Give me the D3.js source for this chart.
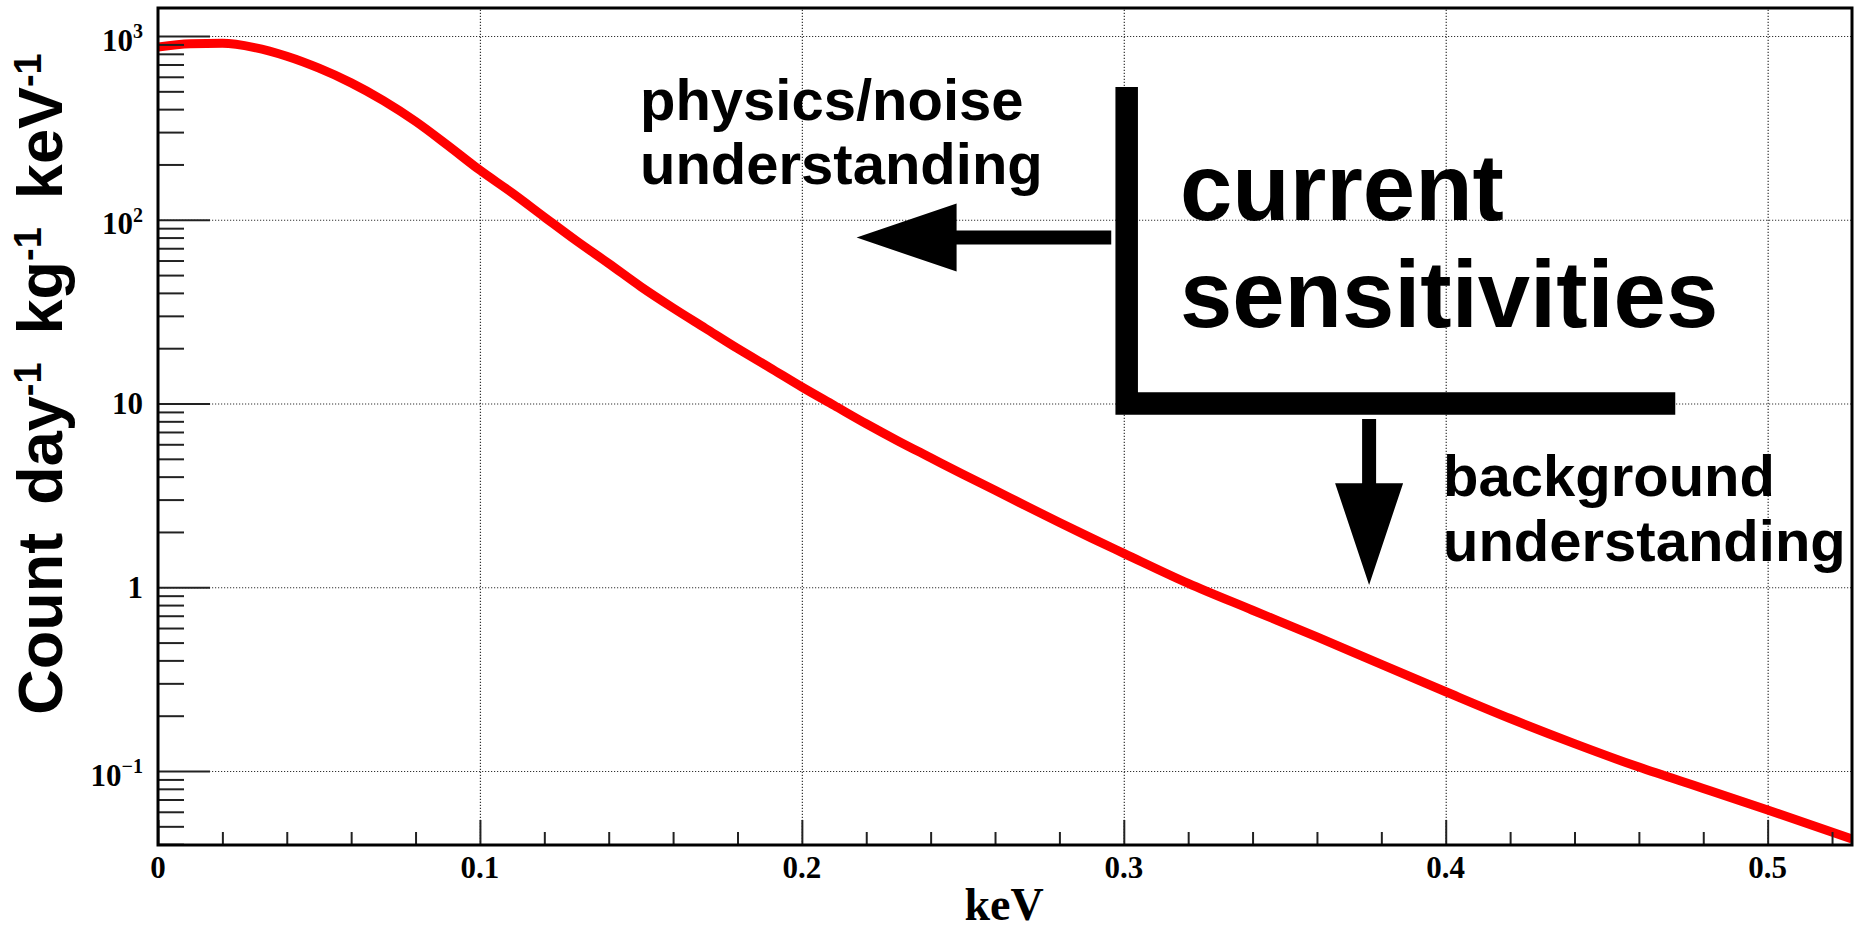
<!DOCTYPE html>
<html>
<head>
<meta charset="utf-8">
<script src="https://cdn.jsdelivr.net/npm/d3@7"></script>
<style>
  html, body { margin: 0; padding: 0; background: #fff; }
  svg { display: block; }
</style>
</head>
<body>
<svg id="chart" width="1858" height="930"></svg>
<script>
// ---------------- data ----------------
const energy = [0, 0.01, 0.02, 0.03, 0.04, 0.05, 0.06, 0.07, 0.08, 0.09,
  0.10, 0.11, 0.12, 0.13, 0.14, 0.15, 0.16, 0.17, 0.18, 0.19,
  0.20, 0.21, 0.22, 0.23, 0.24, 0.25, 0.26, 0.27, 0.28, 0.29,
  0.30, 0.32, 0.34, 0.36, 0.38, 0.40, 0.42, 0.44, 0.46, 0.48,
  0.50, 0.5262];
const counts = [871, 908, 912, 865, 776, 668, 556, 445, 343, 254,
  186, 140, 103.5, 76.7, 57.8, 43.2, 33.1, 25.7, 19.95, 15.7,
  12.3, 9.77, 7.76, 6.24, 5.07, 4.12, 3.37, 2.75, 2.25, 1.85,
  1.53, 1.05, 0.75, 0.537, 0.380, 0.270, 0.193, 0.141, 0.105, 0.0804,
  0.0614, 0.0427];

const xTickValues = [0, 0.1, 0.2, 0.3, 0.4, 0.5];
const xTickLabels = ["0", "0.1", "0.2", "0.3", "0.4", "0.5"];
const yTickValues = [0.1, 1, 10, 100, 1000];
const yTickBase = ["10", "1", "10", "10", "10"];
const yTickExp = ["\u22121", "", "", "2", "3"];
const xTitle = "keV";
const yTitleParts = [["Count", ""], ["day", "-1"], ["kg", "-1"], ["keV", "-1"]];
const noteLeft = ["physics/noise", "understanding"];
const noteMain = ["current", "sensitivities"];
const noteDown = ["background", "understanding"];
// annotation anchors in data units [keV, counts]
const lShape = [[0.3009, 528], [0.3009, 10], [0.4713, 10]];
const arrowLeft = [[0.2961, 80], [0.2170, 80]];
const arrowDown = [[0.3762, 8.23], [0.3762, 1.03]];

// ---------------- layout ----------------
const W = 1858, H = 930;
const L = 158, R = 1852, T = 8, B = 845;
const svg = d3.select("#chart");
svg.append("rect").attr("width", W).attr("height", H).attr("fill", "#fff");

const x = d3.scaleLinear().domain([0, 0.5262]).range([L, R]);
const y = d3.scaleLog().domain([0.03957, 1420.6]).range([B, T]);

const SERIF = "'Liberation Serif','Times New Roman',serif";
const SANS = "'Liberation Sans',Arial,Helvetica,sans-serif";

// grid
const gridX = svg.append("g").attr("transform", `translate(0,${B})`)
  .call(d3.axisBottom(x).tickValues(xTickValues.slice(1)).tickSize(-(B - T)).tickFormat(""));
const gridY = svg.append("g").attr("transform", `translate(${L},0)`)
  .call(d3.axisLeft(y).tickValues(yTickValues).tickSize(-(R - L)).tickFormat(""));
[gridX, gridY].forEach(g => {
  g.select(".domain").remove();
  g.selectAll("line").attr("stroke", "#333").attr("stroke-width", 1.2).attr("stroke-dasharray", "1.2,1.8");
});

// curve
svg.append("clipPath").attr("id", "clip").append("rect")
  .attr("x", L).attr("y", T).attr("width", R - L).attr("height", B - T);
const line = d3.line().x((d, i) => x(energy[i])).y((d, i) => y(counts[i])).curve(d3.curveMonotoneX);
svg.append("path").attr("clip-path", "url(#clip)")
  .attr("d", line(energy))
  .attr("fill", "none").attr("stroke", "#ff0000").attr("stroke-width", 9)
  .attr("stroke-linejoin", "round");

// ticks
const xMinor = d3.range(0, 0.5262, 0.02).filter(v => Math.abs(v * 10 - Math.round(v * 10)) > 1e-6);
const yMinor = [];
for (let d = -2; d <= 3; d++) for (let m = 2; m <= 9; m++) {
  const v = m * Math.pow(10, d);
  if (v > 0.03957 && v < 1420.6) yMinor.push(v);
}
function styleTicks(g) {
  g.select(".domain").remove();
  g.selectAll("line").attr("stroke", "#222").attr("stroke-width", 2);
}
svg.append("g").attr("transform", `translate(0,${B})`)
  .call(d3.axisBottom(x).tickValues(xMinor).tickSize(-13).tickFormat("")).call(styleTicks);
svg.append("g").attr("transform", `translate(0,${B})`)
  .call(d3.axisBottom(x).tickValues(xTickValues).tickSize(-25).tickFormat("")).call(styleTicks);
svg.append("g").attr("transform", `translate(${L},0)`)
  .call(d3.axisLeft(y).tickValues(yMinor).tickSize(-26).tickFormat("")).call(styleTicks);
svg.append("g").attr("transform", `translate(${L},0)`)
  .call(d3.axisLeft(y).tickValues(yTickValues).tickSize(-52).tickFormat("")).call(styleTicks);

// frame
svg.append("rect").attr("x", L).attr("y", T).attr("width", R - L).attr("height", B - T)
  .attr("fill", "none").attr("stroke", "#000").attr("stroke-width", 3);

// x tick labels
svg.append("g").selectAll("text").data(xTickValues).join("text")
  .attr("x", d => x(d)).attr("y", 878)
  .attr("text-anchor", "middle").attr("font-family", SERIF).attr("font-weight", "bold")
  .attr("font-size", 31).attr("fill", "#000")
  .text((d, i) => xTickLabels[i]);

// y tick labels
yTickValues.forEach((v, i) => {
  const hasExp = yTickExp[i] !== "";
  const t = svg.append("text")
    .attr("x", 143).attr("y", y(v) + (hasExp ? 14.5 : 10.5))
    .attr("text-anchor", "end").attr("font-family", SERIF).attr("font-weight", "bold")
    .attr("font-size", 31).attr("fill", "#000");
  t.append("tspan").text(yTickBase[i]);
  if (hasExp) t.append("tspan").attr("font-size", 20).attr("dy", -12.5).text(yTickExp[i]);
});

// x title
svg.append("text").attr("x", 1004).attr("y", 920).attr("text-anchor", "middle")
  .attr("font-family", SERIF).attr("font-weight", "bold").attr("font-size", 46)
  .attr("fill", "#000").text(xTitle);

// y title
const yt = svg.append("text")
  .attr("transform", "translate(62,384) rotate(-90)")
  .attr("text-anchor", "middle").attr("font-family", SANS).attr("font-weight", "bold")
  .attr("font-size", 63).attr("fill", "#000");
let raised = false;
yTitleParts.forEach((p, i) => {
  const base = yt.append("tspan").text(p[0]);
  if (i > 0) base.attr("dx", 28);
  if (raised) base.attr("dy", 21);
  raised = false;
  if (p[1]) { yt.append("tspan").attr("font-size", 38).attr("dy", -21).text(p[1]); raised = true; }
});

// annotations: L shape
const lPath = d3.line().x(d => x(d[0])).y(d => y(d[1]));
svg.append("path").attr("d", lPath(lShape)).attr("fill", "none")
  .attr("stroke", "#000").attr("stroke-width", 22.5)
  .attr("stroke-linejoin", "miter").attr("stroke-linecap", "butt");

function arrow(pts, shaft, headLen, headHalf) {
  const x0 = x(pts[0][0]), y0 = y(pts[0][1]), x1 = x(pts[1][0]), y1 = y(pts[1][1]);
  const len = Math.hypot(x1 - x0, y1 - y0);
  const ux = (x1 - x0) / len, uy = (y1 - y0) / len;
  const nx = -uy, ny = ux;
  const bx = x1 - ux * headLen, by = y1 - uy * headLen;
  const s = shaft / 2;
  const p = [
    [x0 + nx * s, y0 + ny * s], [bx + nx * s, by + ny * s], [bx + nx * headHalf, by + ny * headHalf],
    [x1, y1],
    [bx - nx * headHalf, by - ny * headHalf], [bx - nx * s, by - ny * s], [x0 - nx * s, y0 - ny * s]
  ];
  svg.append("polygon").attr("points", p.map(q => q.join(",")).join(" ")).attr("fill", "#000");
}
arrow(arrowLeft, 14, 100, 34);
arrow(arrowDown, 14, 101.7, 34);

function note(lines, xPos, baselines, size) {
  const t = svg.append("text").attr("font-family", SANS).attr("font-weight", "bold")
    .attr("font-size", size).attr("fill", "#000");
  lines.forEach((s, i) => t.append("tspan").attr("x", xPos).attr("y", baselines[i]).text(s));
}
note(noteLeft, 640, [120, 184], 58);
note(noteMain, 1180, [220, 327], 94);
note(noteDown, 1443, [496, 561], 58);
</script>
</body>
</html>
